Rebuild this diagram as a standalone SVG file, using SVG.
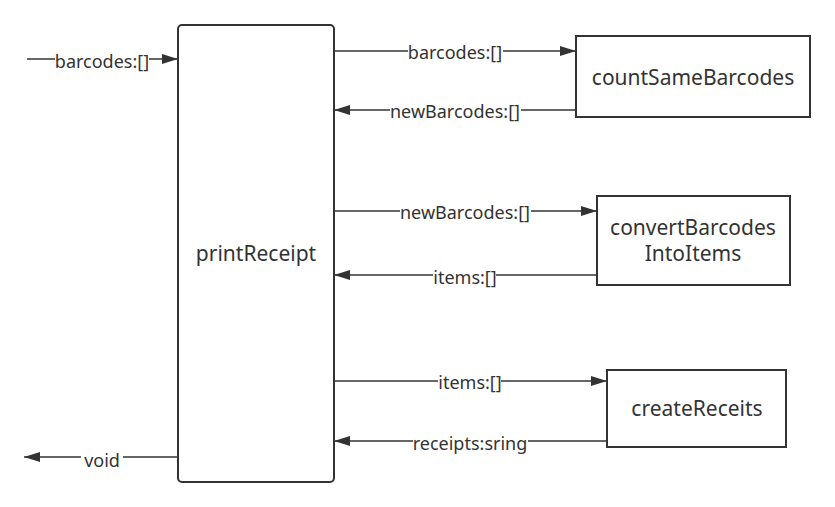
<svg xmlns="http://www.w3.org/2000/svg" width="835" height="507" viewBox="0 0 835 507">
<style>
.box{fill:#fff;stroke:#333;stroke-width:2}
.ln{fill:none;stroke:#333;stroke-width:1.5}
.nt{font-family:"Noto Sans","Liberation Sans",sans-serif;font-size:21px;fill:#333;text-anchor:middle}
.lb{font-family:"Noto Sans","Liberation Sans",sans-serif;font-size:18px;fill:#333;text-anchor:middle}
.bg{fill:#fff}
</style>
<defs>
<marker id="ah" markerUnits="userSpaceOnUse" markerWidth="17" markerHeight="12" refX="16" refY="5" orient="auto">
<path d="M0,0 L16,5 L0,10 Z" fill="#333"/>
</marker>
</defs>
<rect width="835" height="507" fill="#fff"/>
<g id="printReceipt">
<rect class="box" x="178" y="25" width="156" height="457" rx="4"/>
<text class="nt" x="256" y="261">printReceipt</text>
</g>
<g id="countSameBarcodes">
<rect class="box" x="576" y="36" width="234" height="81"/>
<text class="nt" x="693" y="85">countSameBarcodes</text>
</g>
<g id="convertBarcodesIntoItems">
<rect class="box" x="597" y="196" width="193" height="89"/>
<text class="nt" x="693" y="235">convertBarcodes</text>
<text class="nt" x="693" y="261">IntoItems</text>
</g>
<g id="createReceits">
<rect class="box" x="607" y="370" width="179" height="77"/>
<text class="nt" x="697" y="416">createReceits</text>
</g>
<g id="connectors">
<line class="ln" x1="27" y1="59" x2="178" y2="59" marker-end="url(#ah)"/>
<line class="ln" x1="178" y1="457" x2="24" y2="457" marker-end="url(#ah)"/>
<line class="ln" x1="334" y1="51" x2="576" y2="51" marker-end="url(#ah)"/>
<line class="ln" x1="576" y1="110" x2="334" y2="110" marker-end="url(#ah)"/>
<line class="ln" x1="334" y1="211" x2="597" y2="211" marker-end="url(#ah)"/>
<line class="ln" x1="597" y1="275" x2="334" y2="275" marker-end="url(#ah)"/>
<line class="ln" x1="334" y1="381" x2="607" y2="381" marker-end="url(#ah)"/>
<line class="ln" x1="607" y1="441" x2="334" y2="441" marker-end="url(#ah)"/>
<rect class="bg" x="55" y="50" width="94" height="18"/>
<text class="lb" x="102" y="68">barcodes:[]</text>
<rect class="bg" x="81" y="448" width="42" height="18"/>
<text class="lb" x="102" y="467">void</text>
<rect class="bg" x="408" y="42" width="95" height="18"/>
<text class="lb" x="455" y="59">barcodes:[]</text>
<rect class="bg" x="390" y="101" width="131" height="18"/>
<text class="lb" x="455" y="118">newBarcodes:[]</text>
<rect class="bg" x="400" y="202" width="131" height="18"/>
<text class="lb" x="465" y="219">newBarcodes:[]</text>
<rect class="bg" x="433" y="266" width="63" height="18"/>
<text class="lb" x="465" y="284">items:[]</text>
<rect class="bg" x="438" y="372" width="63" height="18"/>
<text class="lb" x="470" y="389">items:[]</text>
<rect class="bg" x="413" y="432" width="115" height="18"/>
<text class="lb" x="470" y="450">receipts:sring</text>
</g>
</svg>
